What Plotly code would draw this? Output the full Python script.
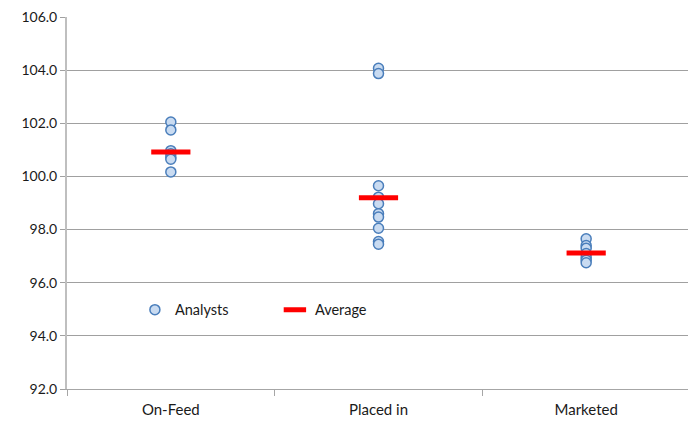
import plotly.graph_objects as go

categories = ["On-Feed", "Placed in", "Marketed"]
analysts_onfeed = [102.05, 101.75, 100.97, 100.85, 100.72, 100.65, 100.17]
analysts_placed = [104.07, 103.87, 99.65, 99.22, 98.97, 98.6, 98.47, 98.05, 97.55, 97.45]
analysts_marketed = [97.65, 97.4, 97.3, 97.1, 96.95, 96.85, 96.75]
averages = [100.92, 99.2, 97.12]
y_ticks = [92, 94, 96, 98, 100, 102, 104, 106]

ax_x = ([categories[0]] * len(analysts_onfeed) + [categories[1]] * len(analysts_placed)
        + [categories[2]] * len(analysts_marketed))
ax_y = analysts_onfeed + analysts_placed + analysts_marketed

fig = go.Figure()
fig.add_trace(go.Scatter(
    x=ax_x, y=ax_y, mode="markers", name="Analysts",
    marker=dict(symbol="circle", size=10, color="#c9dbf1",
                line=dict(color="#4a7ebb", width=1.5)),
))
fig.add_trace(go.Scatter(
    x=categories, y=averages, mode="markers", name="Average",
    marker=dict(symbol="line-ew", size=28, color="#ff0000",
                line=dict(color="#ff0000", width=5)),
))

font = "Lato, 'Open Sans', sans-serif"
# The page body has an 8px margin, so the figure is sized 8px smaller.
fig.update_layout(
    width=688, height=413,
    margin=dict(l=59, r=6, t=9, b=32, autoexpand=False),
    paper_bgcolor="white", plot_bgcolor="white",
    font=dict(family=font, size=14, color="#1a1a1a"),
    showlegend=True,
    legend=dict(orientation="h", x=0.109, y=0.213, xanchor="left", yanchor="middle",
                bgcolor="rgba(0,0,0,0)", entrywidth=95, entrywidthmode="pixels",
                font=dict(family=font, size=14.5)),
    xaxis=dict(type="category", categoryorder="array", categoryarray=categories,
               range=[-0.5, 2.5], tickson="boundaries", ticks="outside", ticklen=6,
               tickcolor="#a6a6a6", showgrid=False, showline=True, linecolor="#a6a6a6",
               linewidth=1, zeroline=False, tickfont=dict(size=15),
               ticklabelstandoff=7, ticklabeloverflow="allow"),
    yaxis=dict(range=[92, 106], tickvals=y_ticks,
               ticktext=[f"{v:.1f}" for v in y_ticks],
               showgrid=True, gridcolor="#a0a0a0", gridwidth=1,
               showline=True, linecolor="#bfbfbf", linewidth=2,
               ticks="outside", ticklen=5, tickcolor="#a0a0a0",
               zeroline=False, tickfont=dict(size=14), ticklabeloverflow="allow"),
)

fig.write_html("out.html")
